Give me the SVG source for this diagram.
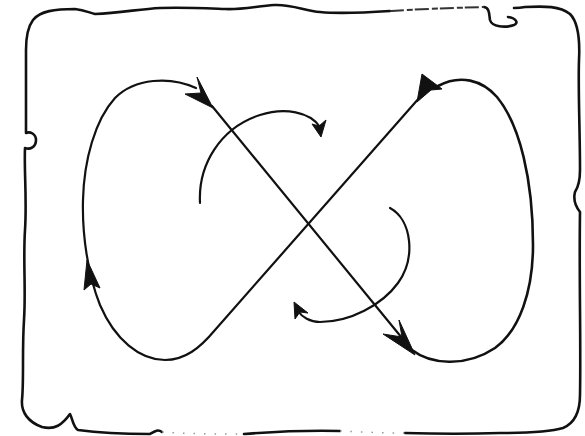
<svg xmlns="http://www.w3.org/2000/svg" width="585" height="436" viewBox="0 0 585 436">
<style>
.b{fill:none;stroke:#111;stroke-width:2.6;stroke-linecap:round;stroke-linejoin:round}
.d{fill:none;stroke:#333;stroke-width:2;stroke-dasharray:14 3 6 2}
.f{fill:none;stroke:#999;stroke-width:1.5;stroke-dasharray:1.5 9}
.l{fill:none;stroke:#111;stroke-width:2.2;stroke-linecap:round;stroke-linejoin:round}
.h{fill:#111;stroke:#111;stroke-width:1;stroke-linejoin:round}
</style>
<rect width="585" height="436" fill="#fff"/>
<g id="frame">
<path class="b" d="M390,11 C360,13 340,14 320,12 C305,11 292,4 274,5 C258,6 240,10 225,9 C200,8 180,7 160,8 C140,9 120,13 95,14 C90,13 85,10 75,9 C55,9 40,11 33,20 C27,28 26,38 26,50 L26,133 C30,131 36,134 36,140 C36,147 30,150 25,148 C24,170 27,200 25,230 C23,260 26,290 24,320 C22,350 24,380 22,400 C21,412 28,422 42,427 C55,430 62,425 70,414 C73,420 73,427 78,430 C100,433 130,434 150,434 C155,431 158,429 162,432"/>
<path class="b" d="M244,434 C270,432 300,430 340,431"/>
<path class="b" d="M405,433 C440,434 470,434 500,433 C530,433 550,432 563,428 C575,423 580,412 580,395 C581,340 579,280 580,212 C576,207 573,200 575,192 C579,186 580,180 580,170 C580,130 578,90 579,60 C580,40 578,22 570,14 C560,6 545,6 525,7 C520,8 517,8 514,8"/>
<path class="b" d="M484,7 C490,8 489,15 490,20 C492,27 505,28 514,25 C519,23 516,18 508,17"/>
<path class="d" d="M390,11 C420,9 450,8 484,7"/>
<path class="f" d="M162,432 C190,434 220,434 244,434"/>
<path class="f" d="M340,431 C360,432 385,433 405,433"/>
</g>
<g id="connectors">
<path id="line1" class="l" d="M212,106 L402,338"/>
<path id="leftLoop" class="l" d="M420,97 L215,330 C200,348 185,360 165,360 C140,360 115,340 100,305 C88,275 82,235 83,200 C84,160 95,120 115,98 C135,78 170,76 196,88"/>
<path id="rightLoop" class="l" d="M412,350 C430,364 465,368 495,348 C520,330 533,290 533,245 C533,180 520,125 497,97 C482,80 460,74 438,86" style="stroke-width:2.6"/>
<path id="upperArc" class="l" d="M200,203 C198,165 220,128 260,115 C285,107 310,112 320,127"/>
<path id="lowerArc" class="l" d="M390,208 C412,220 416,258 398,283 C382,305 350,322 320,322 C310,322 302,317 298,311"/>
<polygon class="h" points="213,108 197,77 201,93 185,94"/>
<polygon class="h" points="415,355 399,320 402,337 383,334"/>
<polygon class="h" points="422,74 442,89 431,90 417,102"/>
<polygon class="h" points="87,260 100,288 91,284 84,290"/>
<polygon class="h" points="321,137 312,124 319,126 326,120"/>
<polygon class="h" points="294,302 308,313 300,312 295,319"/>
</g>
</svg>
